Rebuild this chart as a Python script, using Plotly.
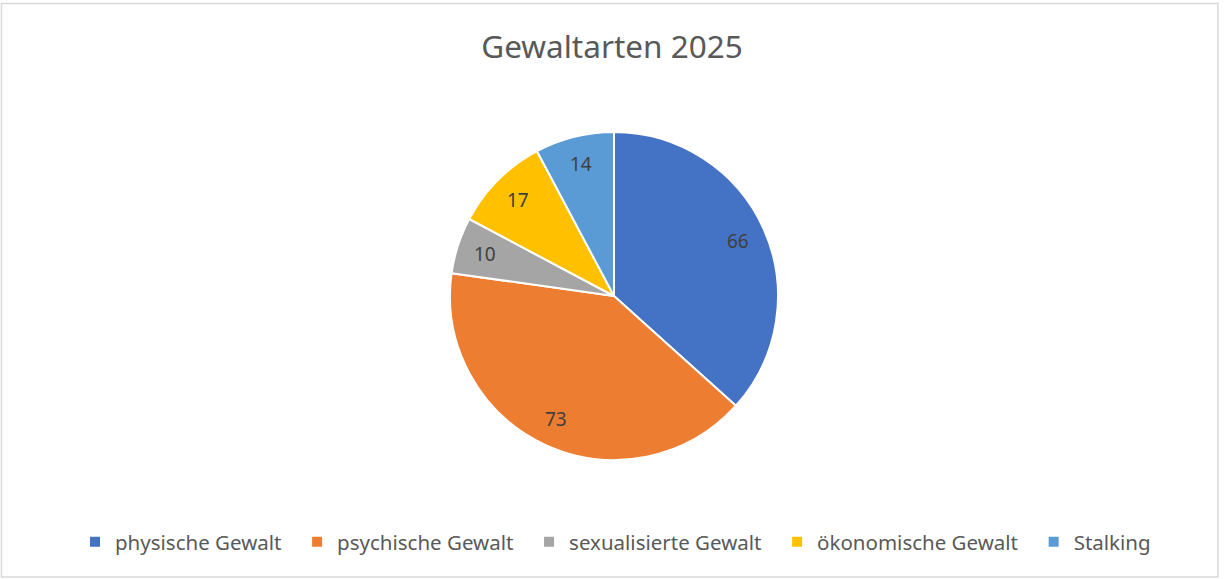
import math
import plotly.graph_objects as go

# Gewaltarten 2025 data
kategorien = ["physische Gewalt", "psychische Gewalt", "sexualisierte Gewalt",
              "ökonomische Gewalt", "Stalking"]
anzahl = [66, 73, 10, 17, 14]
farben = ["#4472C4", "#ED7D31", "#A5A5A5", "#FFC000", "#5B9BD5"]

W, H = 1224, 579
cx, cy, r = 614, 296, 164  # pie centre and radius in pixels

# a bit of trailing space so legend entries are spread like in Excel
legend_labels = [k + "\u00a0\u00a0" for k in kategorien]

fig = go.Figure(go.Pie(
    labels=legend_labels,
    values=anzahl,
    sort=False,
    direction="clockwise",
    rotation=0,
    marker=dict(colors=farben, line=dict(color="white", width=2)),
    textinfo="none",
    domain=dict(x=[(cx - r) / W, (cx + r) / W], y=[(H - cy - r) / H, (H - cy + r) / H]),
    hoverinfo="label+value",
))

# data labels at ~0.83 of the radius, in the middle of each slice (like Excel "best fit")
total = sum(anzahl)
start = 0
for v in anzahl:
    ang = 2 * math.pi * (start + v / 2) / total
    start += v
    d = 0.83 * r
    fig.add_annotation(x=(cx + d * math.sin(ang)) / W, y=(H - cy + d * math.cos(ang)) / H,
                       xref="paper", yref="paper", xanchor="center", yanchor="middle",
                       text=str(v), showarrow=False,
                       font=dict(size=19, color="#404040"))

fig.update_layout(
    width=W, height=H,
    margin=dict(l=0, r=0, t=0, b=0),
    paper_bgcolor="white",
    font=dict(family="Noto Sans", color="#595959"),
    title=dict(text="Gewaltarten 2025", x=0.5, xanchor="center", y=1 - 47 / H, yanchor="middle",
               font=dict(size=31.5, color="#595959")),
    legend=dict(orientation="h", x=0.5 + 9 / W, xanchor="center", y=1 - 542 / H, yanchor="middle",
                font=dict(size=20.5, color="#595959"), itemwidth=30, traceorder="normal"),
    shapes=[dict(type="rect", xref="paper", yref="paper",
                 x0=1.5 / W, y0=1 - 577 / H, x1=1218 / W, y1=1 - 3.5 / H,
                 line=dict(color="#D9D9D9", width=1.5))],
)

# drop the browser's default body margin so the chart sits at the window corner
fig.write_html("out.html", config={"displayModeBar": False},
               post_script="document.body.style.margin='0';")
